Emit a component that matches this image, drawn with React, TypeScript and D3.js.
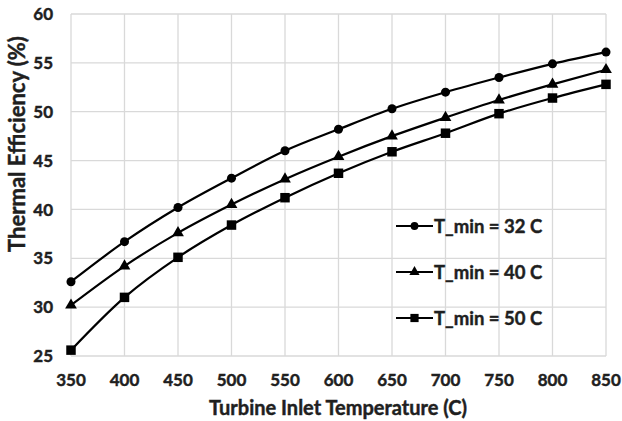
import React, { useEffect, useRef } from "react";
import * as d3 from "d3";

const temps = [350, 400, 450, 500, 550, 600, 650, 700, 750, 800, 850];
const eff32 = [32.6, 36.7, 40.2, 43.2, 46.0, 48.2, 50.3, 52.0, 53.5, 54.9, 56.1];
const eff40 = [30.2, 34.2, 37.6, 40.5, 43.1, 45.4, 47.5, 49.4, 51.2, 52.8, 54.3];
const eff50 = [25.6, 31.0, 35.1, 38.4, 41.2, 43.7, 45.9, 47.8, 49.8, 51.4, 52.8];
const seriesNames = ["T_min = 32 C", "T_min = 40 C", "T_min = 50 C"];
const xTicks = [350, 400, 450, 500, 550, 600, 650, 700, 750, 800, 850];
const yTicks = [25, 30, 35, 40, 45, 50, 55, 60];

const FONT = "Lato, 'Open Sans', sans-serif";
const INK = "#1f1f1f";

export default function App() {
  const svgRef = useRef<SVGSVGElement>(null);

  useEffect(() => {
    const W = 622;
    const H = 421;
    const margin = { top: 14, right: 16, bottom: 65, left: 71 };
    const width = W - margin.left - margin.right;
    const height = H - margin.top - margin.bottom;

    d3.select(svgRef.current).selectAll("*").remove();

    const root = d3
      .select(svgRef.current)
      .attr("width", W)
      .attr("height", H)
      .style("font-family", FONT)
      .style("display", "block");

    root.append("rect").attr("width", W).attr("height", H).attr("fill", "#fff");

    const svg = root
      .append("g")
      .attr("transform", `translate(${margin.left},${margin.top})`);

    const x = d3.scaleLinear().domain([350, 850]).range([0, width]);
    const y = d3.scaleLinear().domain([25, 60]).range([height, 0]);

    // Gridlines (including the frame)
    svg
      .append("g")
      .selectAll("line")
      .data(xTicks)
      .join("line")
      .attr("x1", (d) => x(d))
      .attr("x2", (d) => x(d))
      .attr("y1", 0)
      .attr("y2", height)
      .attr("stroke", "#d9d9d9")
      .attr("stroke-width", 1.3);

    svg
      .append("g")
      .selectAll("line")
      .data(yTicks)
      .join("line")
      .attr("x1", 0)
      .attr("x2", width)
      .attr("y1", (d) => y(d))
      .attr("y2", (d) => y(d))
      .attr("stroke", "#d9d9d9")
      .attr("stroke-width", 1.3);

    const boldText = (sel: any, size: number) =>
      sel
        .attr("font-size", size)
        .attr("font-weight", 700)
        .attr("fill", INK)
        .attr("stroke", INK)
        .attr("stroke-width", 0.45);

    // Tick labels
    svg
      .append("g")
      .selectAll("text")
      .data(yTicks)
      .join("text")
      .attr("x", -18)
      .attr("y", (d) => y(d))
      .attr("dy", "0.36em")
      .attr("text-anchor", "end")
      .call(boldText, 17)
      .text((d) => d);

    svg
      .append("g")
      .selectAll("text")
      .data(xTicks)
      .join("text")
      .attr("x", (d) => x(d))
      .attr("y", height + 30)
      .attr("text-anchor", "middle")
      .call(boldText, 17)
      .text((d) => d);

    // Axis titles
    root
      .append("text")
      .attr("x", 338)
      .attr("y", 415)
      .attr("text-anchor", "middle")
      .call(boldText, 20)
      .text("Turbine Inlet Temperature (C)");

    root
      .append("text")
      .attr("transform", `translate(25,144) rotate(-90)`)
      .attr("text-anchor", "middle")
      .call(boldText, 22)
      .text("Thermal Efficiency (%)");

    // Series
    const allSeries = [eff32, eff40, eff50];
    const symbols = [d3.symbolCircle, d3.symbolTriangle, d3.symbolSquare];
    const sizes = [64, 60, 90];

    const line = d3
      .line<number>()
      .x((_, i) => x(temps[i]))
      .y((d) => y(d))
      .curve(d3.curveMonotoneX);

    allSeries.forEach((vals, s) => {
      svg
        .append("path")
        .datum(vals)
        .attr("d", line)
        .attr("fill", "none")
        .attr("stroke", "#000")
        .attr("stroke-width", 2.2);

      svg
        .append("g")
        .selectAll("path")
        .data(vals)
        .join("path")
        .attr("transform", (d, i) => `translate(${x(temps[i])},${y(d)})`)
        .attr("d", d3.symbol().type(symbols[s]).size(sizes[s])())
        .attr("fill", "#000");
    });

    // Legend
    const legend = root.append("g").attr("transform", "translate(396,226)");
    seriesNames.forEach((name, i) => {
      const row = legend.append("g").attr("transform", `translate(0,${i * 46})`);
      row
        .append("line")
        .attr("x1", 0)
        .attr("x2", 37)
        .attr("stroke", "#000")
        .attr("stroke-width", 2.2);
      row
        .append("path")
        .attr("transform", "translate(18.5,0)")
        .attr("d", d3.symbol().type(symbols[i]).size(sizes[i] * 0.75)())
        .attr("fill", "#000");
      row
        .append("text")
        .attr("x", 38)
        .attr("dy", "0.36em")
        .call(boldText, 18.5)
        .text(name);
    });
  }, []);

  return (
    <div style={{ position: "absolute", left: 0, top: 0 }}>
      <svg ref={svgRef}></svg>
    </div>
  );
}
